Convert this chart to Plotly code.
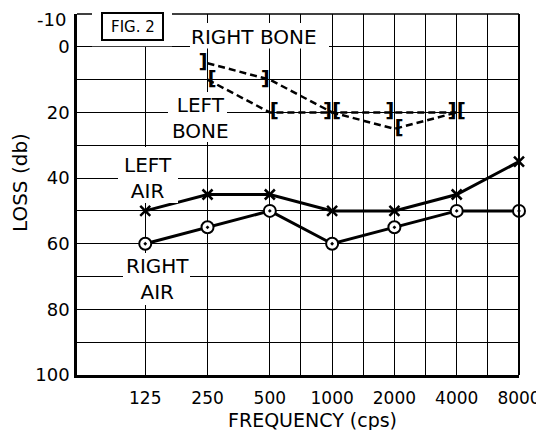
import math
import plotly.graph_objects as go

# ---- data ----
freqs = [125, 250, 500, 1000, 2000, 4000, 8000]
left_air = [50, 45, 45, 50, 50, 45, 35]
right_air = [60, 55, 50, 60, 55, 50, 50]
bone_freqs = [250, 500, 1000, 2000, 4000]
right_bone = [5, 10, 20, 20, 20]
left_bone = [10, 20, 20, 25, 20]

x_ticklabels = ["125", "250", "500", "1000", "2000", "4000", "8000"]
y_tickvals = list(range(-10, 101, 10))
top_label = "-10"
y_ticklabels = ["", "0", "", "20", "", "40", "", "60", "", "80", "", "100"]

# ---- layout geometry (window pixels; page body has an 8px margin) ----
OFF = 8
W, H = 544 - OFF, 430 - OFF
L, R, T, B = 77, 519, 14, 375
FONT = "DejaVu Sans"


def px(x):
    return (x - L) / (R - L)


def py(y):
    return (B - y) / (B - T)


# grid: octave lines plus half-octave lines from 500 Hz up
half = [500 * 2 ** 0.5, 1000 * 2 ** 0.5, 2000 * 2 ** 0.5, 4000 * 2 ** 0.5]
grid_x = sorted(freqs + half)
grid_text = [x_ticklabels[freqs.index(v)] if v in freqs else "" for v in grid_x]

fig = go.Figure()

fig.add_trace(go.Scatter(
    x=bone_freqs, y=right_bone, mode="lines+text",
    text=["]"] * len(bone_freqs), textposition="middle left",
    textfont=dict(family=FONT, size=20, color="black", weight="bold"),
    line=dict(color="black", width=2.5, dash="7px,4px"),
    hoverinfo="skip", cliponaxis=False))
fig.add_trace(go.Scatter(
    x=bone_freqs, y=left_bone, mode="lines+text",
    text=["["] * len(bone_freqs), textposition="middle right",
    textfont=dict(family=FONT, size=20, color="black", weight="bold"),
    line=dict(color="black", width=2.5, dash="7px,4px"),
    hoverinfo="skip", cliponaxis=False))
fig.add_trace(go.Scatter(
    x=freqs, y=left_air, mode="lines+markers",
    line=dict(color="black", width=3),
    marker=dict(symbol="x-thin", size=10, color="black",
                line=dict(color="black", width=2.5)),
    cliponaxis=False))
fig.add_trace(go.Scatter(
    x=freqs, y=right_air, mode="lines+markers",
    line=dict(color="black", width=3),
    marker=dict(symbol="circle-dot", size=12, color="white",
                line=dict(color="black", width=2)),
    cliponaxis=False))

shapes = [
    # top and right borders
    dict(type="line", xref="paper", yref="paper", x0=0, x1=1, y0=1, y1=1,
         line=dict(color="black", width=1.5), layer="above"),
    dict(type="line", xref="paper", yref="paper", x0=1, x1=1, y0=0, y1=1,
         line=dict(color="black", width=2), layer="above"),
]
# white areas behind labels
masks = [
    (92, 172, 9, 46.2),      # FIG. 2 area
    (190, 329, 23, 48.5),    # RIGHT BONE
    (168, 227, 92, 142),     # LEFT BONE
    (118, 178, 147, 203),    # LEFT AIR
    (123, 190, 253, 305),    # RIGHT AIR
]
for x0, x1, y0, y1 in masks:
    shapes.append(dict(type="rect", xref="paper", yref="paper",
                       x0=px(x0), x1=px(x1), y0=py(y1), y1=py(y0),
                       fillcolor="white", line=dict(width=0), layer="above"))
shapes.append(dict(type="rect", xref="paper", yref="paper",
                   x0=px(102), x1=px(163), y0=py(40), y1=py(13),
                   fillcolor="white", line=dict(color="black", width=2),
                   layer="above"))


def ann(text, x, y, size=20, angle=0, xanchor="center"):
    return dict(text=text, x=px(x), y=py(y), xref="paper", yref="paper",
                xanchor=xanchor, yanchor="middle", showarrow=False,
                textangle=angle, font=dict(family=FONT, size=size, color="black"))


annotations = [
    ann(top_label, 68, 20, size=18, xanchor="right"),
    ann("FIG. 2", 132.5, 26.5, size=15),
    ann("RIGHT BONE", 254, 37),
    ann("LEFT<br>BONE", 200, 118),
    ann("LEFT<br>AIR", 148, 177.5),
    ann("RIGHT<br>AIR", 157, 279),
    ann("LOSS (db)", 20, 182, angle=-90),
    ann("FREQUENCY (cps)", 312, 420, size=19),
]

fig.update_layout(
    width=W, height=H,
    margin=dict(l=L - OFF, r=W - (R - OFF), t=T - OFF, b=H - (B - OFF),
                pad=0, autoexpand=False),
    paper_bgcolor="white", plot_bgcolor="white",
    showlegend=False,
    shapes=shapes, annotations=annotations,
    xaxis=dict(type="log", range=[math.log10(58.5), math.log10(8000)],
               tickmode="array", tickvals=grid_x, ticktext=grid_text,
               showgrid=True, gridcolor="black", gridwidth=1.2,
               showline=True, linecolor="black", linewidth=3,
               ticks="", ticklabelstandoff=6, zeroline=False, automargin=False,
               ticklabeloverflow="allow",
               tickfont=dict(family=FONT, size=17, color="black")),
    yaxis=dict(range=[100, -10], tickmode="array", tickvals=y_tickvals,
               ticktext=y_ticklabels,
               showgrid=True, gridcolor="black", gridwidth=1.2,
               showline=True, linecolor="black", linewidth=2.5,
               ticks="", ticklabelstandoff=1, zeroline=False, automargin=False,
               ticklabeloverflow="allow",
               tickfont=dict(family=FONT, size=18, color="black")),
)

fig.write_html("out.html")
